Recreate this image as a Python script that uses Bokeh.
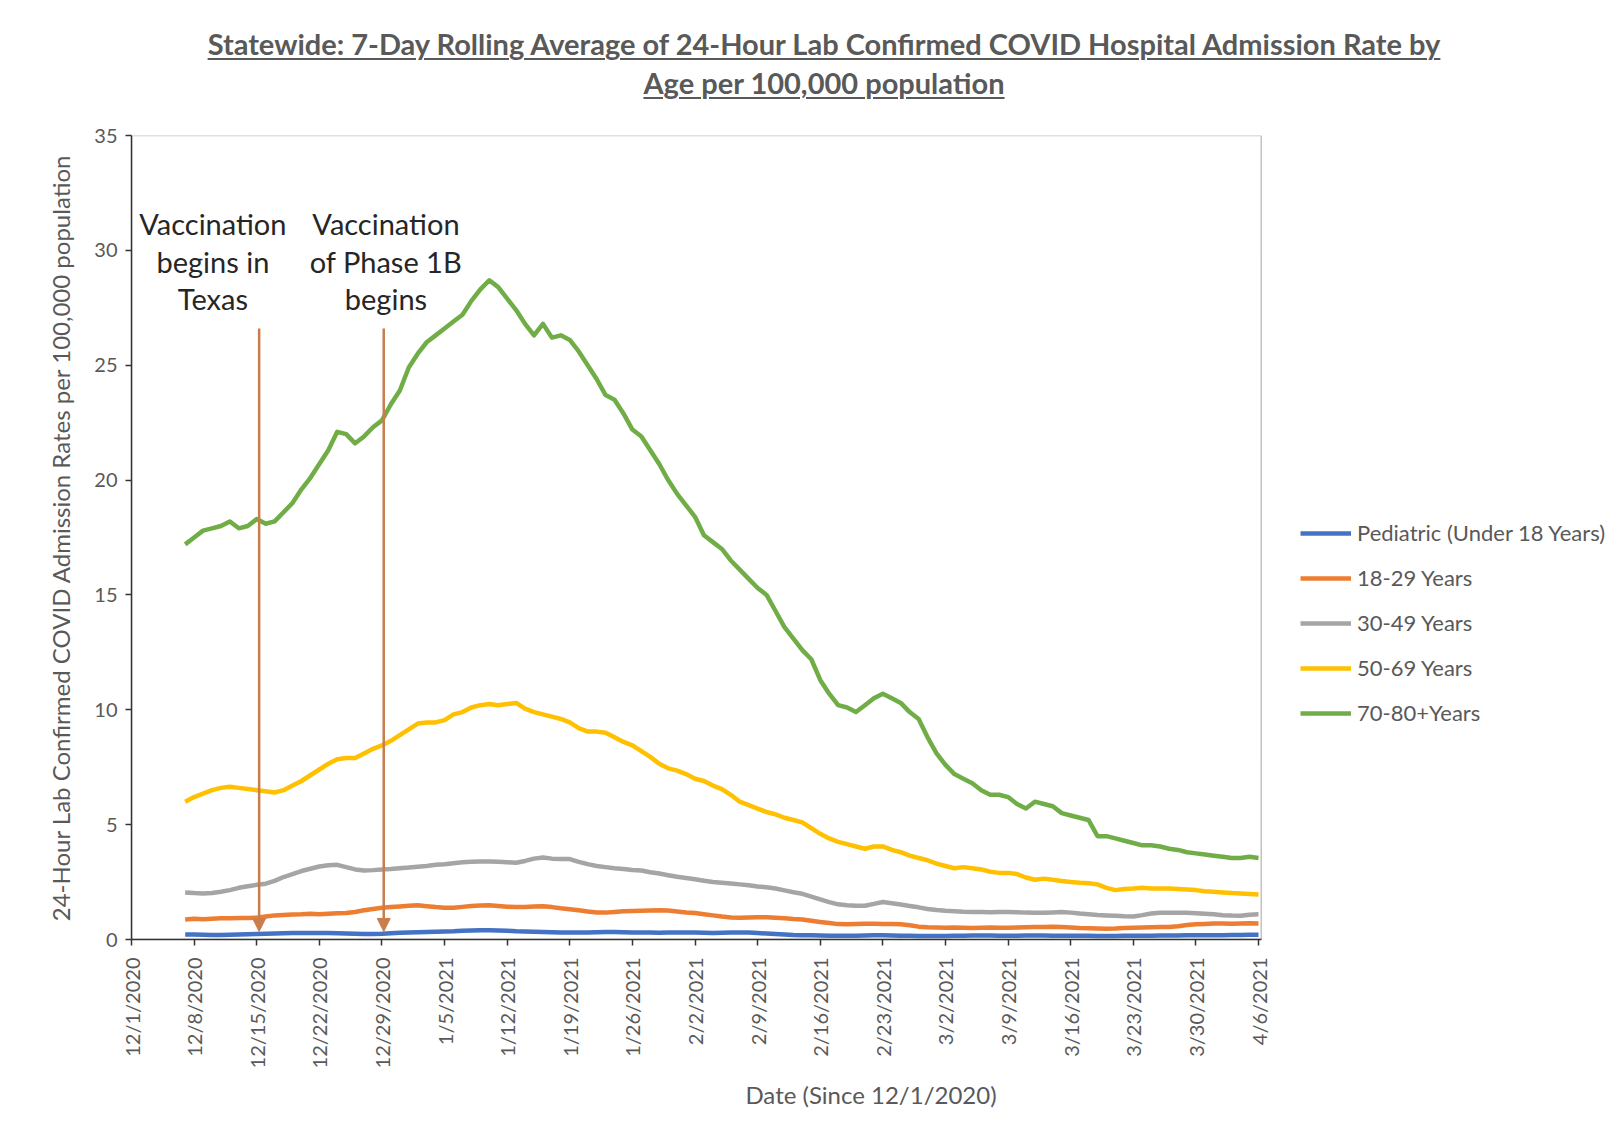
import numpy as np
import pandas as pd
from bokeh.plotting import figure
from bokeh.layouts import column
from bokeh.models import (Legend, LegendItem, Label, Arrow, NormalHead,
                          FixedTicker, Range1d, BoxAnnotation, Div)
from bokeh.embed import file_html
from bokeh.resources import INLINE

# ---------------- data ----------------
axis_origin = "2020-12-01"
first_date = "2020-12-07"
last_date = "2021-04-06"

tick_labels = ["12/1/2020", "12/8/2020", "12/15/2020", "12/22/2020", "12/29/2020",
               "1/5/2021", "1/12/2021", "1/19/2021", "1/26/2021", "2/2/2021",
               "2/9/2021", "2/16/2021", "2/23/2021", "3/2/2021", "3/9/2021",
               "3/16/2021", "3/23/2021", "3/30/2021", "4/6/2021"]

series_names = ["Pediatric (Under 18 Years)", "18-29 Years", "30-49 Years",
                "50-69 Years", "70-80+Years"]

pediatric = [0.22, 0.22, 0.21, 0.2, 0.2, 0.21, 0.22, 0.23, 0.24,
             0.25, 0.26, 0.27, 0.28, 0.28, 0.28, 0.28, 0.28, 0.27, 0.26, 0.25,
             0.24, 0.24, 0.25, 0.27, 0.29,
             0.31, 0.32, 0.33, 0.34, 0.35, 0.36, 0.38, 0.39, 0.4, 0.4, 0.39, 0.38, 0.36, 0.35, 0.34,
             0.33, 0.32, 0.31, 0.3, 0.3, 0.31, 0.32, 0.33, 0.33, 0.32, 0.31, 0.3, 0.3, 0.29, 0.3,
             0.31, 0.31, 0.3, 0.29, 0.28, 0.29, 0.3, 0.31, 0.3, 0.28, 0.26, 0.24, 0.22, 0.2, 0.19,
             0.18, 0.17, 0.16, 0.16, 0.16, 0.16, 0.17, 0.18, 0.18, 0.17, 0.16, 0.16, 0.15, 0.15, 0.15,
             0.15, 0.16, 0.16, 0.17, 0.17, 0.17, 0.16, 0.16, 0.16, 0.17, 0.17, 0.17, 0.16, 0.16, 0.16,
             0.16, 0.16, 0.15, 0.15, 0.15, 0.16, 0.16, 0.16, 0.16, 0.17, 0.17, 0.17, 0.18, 0.18, 0.18,
             0.19, 0.19, 0.2, 0.2, 0.21, 0.21]

age_18_29 = [0.87, 0.9, 0.88, 0.9, 0.92, 0.93, 0.94, 0.94, 0.95, 1.0,
             1.05, 1.07, 1.09, 1.1, 1.12, 1.1, 1.12, 1.14, 1.15, 1.2,
             1.27, 1.33, 1.38, 1.41, 1.44, 1.47, 1.49, 1.45, 1.41, 1.38,
             1.38, 1.42, 1.46, 1.48, 1.49, 1.46, 1.43, 1.42, 1.41, 1.44,
             1.45, 1.41, 1.36, 1.32, 1.27, 1.22, 1.18, 1.17, 1.2, 1.23,
             1.24, 1.25, 1.26, 1.27, 1.26, 1.22, 1.18, 1.15, 1.1, 1.05,
             1.0, 0.96, 0.95, 0.96, 0.97, 0.97, 0.95, 0.92, 0.89, 0.87,
             0.82, 0.76, 0.72, 0.67, 0.66, 0.68, 0.69, 0.69, 0.68, 0.67,
             0.66, 0.62, 0.56, 0.53, 0.52, 0.51, 0.52, 0.51, 0.5, 0.51,
             0.52, 0.51, 0.51, 0.52, 0.53, 0.54, 0.54, 0.55, 0.54, 0.52,
             0.5, 0.49, 0.48, 0.47, 0.48, 0.5, 0.51, 0.52, 0.53, 0.54,
             0.54, 0.58, 0.63, 0.66, 0.68, 0.7, 0.7, 0.69, 0.7, 0.71, 0.7]

age_30_49 = [2.05, 2.02, 2.0, 2.02, 2.08, 2.15, 2.25, 2.32, 2.38, 2.43,
             2.55, 2.72, 2.85, 2.98, 3.08, 3.18, 3.23, 3.25, 3.15, 3.05,
             3.0, 3.02, 3.05, 3.07, 3.1, 3.13, 3.17, 3.2, 3.25, 3.28,
             3.32, 3.36, 3.38, 3.4, 3.4, 3.38, 3.36, 3.34, 3.42, 3.52,
             3.57, 3.52, 3.5, 3.5, 3.38, 3.28, 3.2, 3.15, 3.1, 3.07,
             3.03, 3.0, 2.93, 2.87, 2.8, 2.73, 2.68, 2.62, 2.56, 2.5,
             2.47, 2.44, 2.4, 2.36, 2.31, 2.27, 2.22, 2.14, 2.06, 1.99,
             1.87, 1.75, 1.63, 1.53, 1.49, 1.47, 1.47, 1.55, 1.63, 1.58,
             1.52, 1.46, 1.4, 1.33, 1.28, 1.25, 1.23, 1.21, 1.2, 1.2,
             1.19, 1.2, 1.2, 1.19, 1.17, 1.16, 1.16, 1.18, 1.2, 1.17,
             1.13, 1.1, 1.07, 1.05, 1.03, 1.01, 1.0, 1.06, 1.13, 1.16,
             1.16, 1.16, 1.16, 1.14, 1.12, 1.1, 1.06, 1.04, 1.03, 1.08, 1.1]

age_50_69 = [6.0, 6.2, 6.35, 6.5, 6.6, 6.65, 6.6, 6.55, 6.5, 6.45,
             6.4, 6.5, 6.7, 6.9, 7.15, 7.4, 7.65, 7.85, 7.9, 7.9,
             8.1, 8.3, 8.45, 8.65, 8.9, 9.15, 9.4, 9.45, 9.45, 9.55,
             9.8, 9.9, 10.1, 10.2, 10.25, 10.2, 10.25, 10.3, 10.05, 9.9,
             9.8, 9.7, 9.6, 9.45, 9.2, 9.05, 9.05, 9.0, 8.8, 8.6,
             8.45, 8.2, 7.95, 7.65, 7.45, 7.35, 7.2, 7.0, 6.9, 6.7,
             6.55, 6.3, 6.0, 5.85, 5.7, 5.55, 5.45, 5.3, 5.2, 5.1,
             4.85, 4.6, 4.4, 4.25, 4.15, 4.05, 3.95, 4.05, 4.05, 3.9,
             3.8, 3.65, 3.55, 3.45, 3.3, 3.2, 3.1, 3.15, 3.1, 3.05,
             2.95, 2.9, 2.9, 2.85, 2.7, 2.6, 2.65, 2.6, 2.55, 2.5,
             2.47, 2.45, 2.4, 2.25, 2.15, 2.2, 2.22, 2.25, 2.22, 2.22,
             2.22, 2.2, 2.18, 2.15, 2.1, 2.08, 2.05, 2.02, 2.0, 1.98, 1.96]

age_70_80 = [17.2, 17.5, 17.8, 17.9, 18.0, 18.2, 17.9, 18.0, 18.3, 18.1,
             18.2, 18.6, 19.0, 19.6, 20.1, 20.7, 21.3, 22.1, 22.0, 21.6,
             21.9, 22.3, 22.6, 23.3, 23.9, 24.9, 25.5, 26.0, 26.3, 26.6,
             26.9, 27.2, 27.8, 28.3, 28.7, 28.4, 27.9, 27.4, 26.8, 26.3,
             26.8, 26.2, 26.3, 26.1, 25.6, 25.0, 24.4, 23.7, 23.5, 22.9,
             22.2, 21.9, 21.3, 20.7, 20.0, 19.4, 18.9, 18.4, 17.6, 17.3,
             17.0, 16.5, 16.1, 15.7, 15.3, 15.0, 14.3, 13.6, 13.1, 12.6,
             12.2, 11.3, 10.7, 10.2, 10.1, 9.9, 10.2, 10.5, 10.7, 10.5,
             10.3, 9.9, 9.6, 8.8, 8.1, 7.6, 7.2, 7.0, 6.8, 6.5,
             6.3, 6.3, 6.2, 5.9, 5.7, 6.0, 5.9, 5.8, 5.5, 5.4,
             5.3, 5.2, 4.5, 4.5, 4.4, 4.3, 4.2, 4.1, 4.1, 4.05,
             3.95, 3.9, 3.8, 3.75, 3.7, 3.65, 3.6, 3.55, 3.55, 3.6, 3.55]

series_colors = ["#4472C4", "#ED7D31", "#A5A5A5", "#FFC000", "#70AD47"]

# vaccination events (day offset from 12/1/2020) and their captions
event_days = [14.27, 28.2]
event_texts = [["Vaccination", "begins in", "Texas"],
               ["Vaccination", "of Phase 1B", "begins"]]
event_text_x = [9.1, 28.45]

title_lines = ["Statewide: 7-Day Rolling Average of 24-Hour Lab Confirmed COVID Hospital Admission Rate by",
               "Age per 100,000 population"]

# ---------------- build ----------------
origin = pd.Timestamp(axis_origin)
dates = pd.date_range(first_date, last_date, freq="D")
days = np.array([(d - origin).days for d in dates], dtype=float)

TEXT = "#595959"
FONT = "Lato"
W = 1614
DIV_H = 118
FIG_H = 1012
X_MAX, Y_MAX = 126.3, 35          # plot box limits (data units)

# ---- title (HTML so it can be underlined) ----
span_style = ("text-decoration:underline;text-decoration-thickness:2px;"
              "text-underline-offset:3px;")
title_html = (
    f'<div style="position:relative;width:{W}px;height:{DIV_H}px;margin:0;padding:0;">'
    '<div style="position:absolute;left:824px;top:25px;transform:translateX(-50%);'
    'white-space:nowrap;text-align:center;font-family:Lato;font-weight:bold;'
    'font-size:29px;line-height:38.5px;color:#595959;">'
    + "<br>".join(f'<span style="{span_style}">{t}</span>' for t in title_lines)
    + '</div></div>'
)
title_div = Div(text=title_html, width=W, height=DIV_H, margin=(0, 0, 0, 0))

# ---- chart: the frame reaches to the right edge so the legend is not clipped ----
p = figure(width=W, height=FIG_H, output_backend="svg", toolbar_location=None,
           x_range=Range1d(0, 165.35), y_range=Range1d(0, Y_MAX),
           min_border_left=131, min_border_right=4,
           min_border_top=17, min_border_bottom=191, margin=(0, 0, 0, 0))
p.xgrid.visible = False
p.ygrid.visible = False
p.outline_line_color = None
p.background_fill_color = "white"
p.border_fill_color = "white"

# plot box
p.add_layout(BoxAnnotation(left=0, right=X_MAX, bottom=0, top=Y_MAX,
                           fill_color=None, fill_alpha=0,
                           line_color="#333333", line_width=1.5))

renderers = []
for vals, col in zip([pediatric, age_18_29, age_30_49, age_50_69, age_70_80], series_colors):
    r = p.line(days, vals, line_color=col, line_width=4.5, line_join="round")
    renderers.append(r)

# axes
p.xaxis.ticker = FixedTicker(ticks=[7 * i for i in range(len(tick_labels))])
p.xaxis.major_label_overrides = {7 * i: lab for i, lab in enumerate(tick_labels)}
p.xaxis.major_label_orientation = np.pi / 2
p.xaxis.bounds = (0, X_MAX)
p.yaxis.ticker = FixedTicker(ticks=[0, 5, 10, 15, 20, 25, 30, 35])
p.yaxis.bounds = (0, Y_MAX)
for ax in (p.xaxis[0], p.yaxis[0]):
    ax.axis_line_color = "#333333"
    ax.axis_line_width = 1.5
    ax.major_tick_line_color = "#333333"
    ax.major_tick_line_width = 1.5
    ax.major_tick_out = 6
    ax.major_tick_in = 0
    ax.minor_tick_line_color = None
    ax.major_label_text_font = FONT
    ax.major_label_text_font_size = "20px"
    ax.major_label_text_color = TEXT
    ax.axis_label_text_font = FONT
    ax.axis_label_text_font_size = "24px"
    ax.axis_label_text_font_style = "normal"
    ax.axis_label_text_color = TEXT
p.xaxis.axis_label = "Date (Since 12/1/2020)"
p.yaxis.axis_label = "24-Hour Lab Confirmed COVID Admission Rates per 100,000 population"
p.xaxis.major_label_standoff = 12
p.yaxis.major_label_standoff = 8
p.xaxis.axis_label_standoff = 9
p.yaxis.axis_label_standoff = 16

# legend (right of the plot box)
legend = Legend(items=[LegendItem(label=n, renderers=[r]) for n, r in zip(series_names, renderers)],
                location=(1169, 213), orientation="vertical",
                border_line_color=None, background_fill_alpha=0,
                padding=0, margin=0, spacing=18,
                glyph_width=51, glyph_height=26, label_height=26, label_standoff=6,
                label_text_font=FONT, label_text_font_size="22px", label_text_color=TEXT)
p.add_layout(legend, "center")

# vaccination annotations
ARROW_C = "#C97D4B"
line_y = [31.16, 29.53, 27.91]
for tx, lines in zip(event_text_x, event_texts):
    for ln, ly in zip(lines, line_y):
        p.add_layout(Label(x=tx, y=ly, text=ln, text_align="center", text_baseline="middle",
                           text_font=FONT, text_font_size="29px", text_color="#262626"))
for d in event_days:
    p.add_layout(Arrow(end=NormalHead(size=13, fill_color=ARROW_C, line_color=ARROW_C),
                       x_start=d, y_start=26.6, x_end=d, y_end=0.35,
                       line_color=ARROW_C, line_width=2.5))

layout = column(title_div, p, spacing=0)
open("out.html", "w").write(file_html(layout, INLINE))
